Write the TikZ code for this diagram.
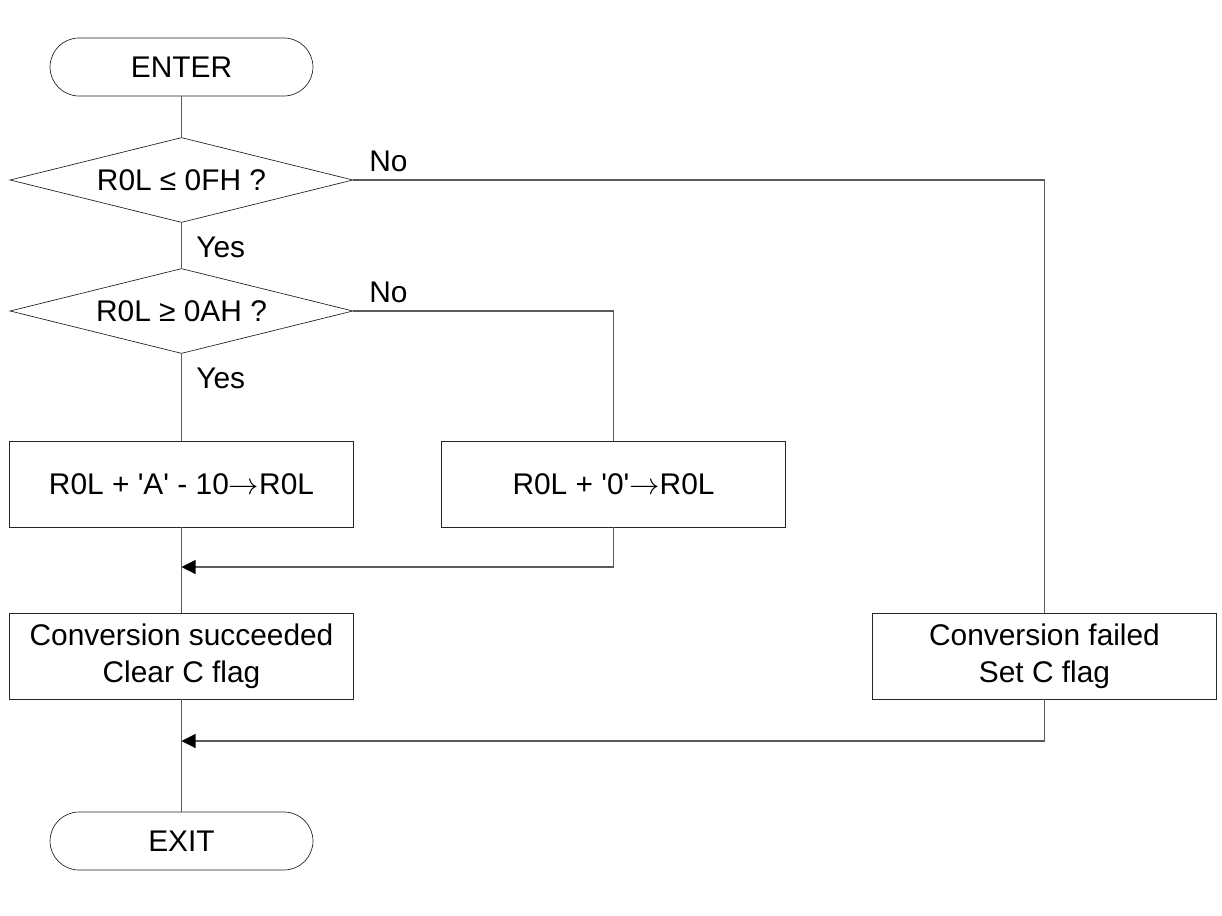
\documentclass[tikz,border=0pt]{standalone}
\usepackage{fontspec}
\setmainfont{Liberation Sans}
\usetikzlibrary{shapes,shapes.geometric,arrows.meta,positioning,calc}
\usepackage{xcolor}
\definecolor{flowgray}{RGB}{90,90,90}

\begin{document}
\begin{tikzpicture}[x=0.02cm, y=-0.02cm,
    font=\fontsize{17}{21}\selectfont,
    terminal/.style={rectangle, draw=black!85, rounded corners=0.58cm, minimum width=5.26cm, minimum height=1.16cm, inner sep=0pt},
    decision/.style={diamond, draw=black!85, aspect=4, inner sep=0pt, minimum width=6.86cm, minimum height=1.7cm},
    process/.style={rectangle, draw=black!85, align=center, inner sep=0pt, minimum width=6.88cm, minimum height=1.72cm},
    answer/.style={anchor=west, inner sep=0pt},
    flow/.style={draw=flowgray, line width=0.6pt},
    joinarrow/.style={flow, -{Triangle[length=0.28cm, width=0.28cm, color=black]}}]

    \useasboundingbox (0,0) rectangle (1222,915);

    \node[terminal] (enter) at (181.5,67) {ENTER};
    \node[decision] (lowfh) at (181.5,180) {R0L ≤ 0FH ?};
    \node[decision] (highah) at (181.5,311) {R0L ≥ 0AH ?};
    \node[process] (addA) at (181.5,484) {R0L + \textquotesingle A\textquotesingle\ - 10$\rightarrow$R0L};
    \node[process] (addzero) at (613.5,484) {R0L + \textquotesingle 0\textquotesingle$\rightarrow$R0L};
    \node[process] (success) at (181.5,656) {Conversion succeeded\\ Clear C flag};
    \node[process] (failed) at (1044.5,656) {Conversion failed\\ Set C flag};
    \node[terminal] (exit) at (181.5,841) {EXIT};

    \node[answer] (yes1) at (196,247) {Yes};
    \node[answer] (yes2) at (196,378) {Yes};
    \node[answer] (no1) at (369,161) {No};
    \node[answer] (no2) at (369,292) {No};

    \coordinate (join1) at (181.5,567);
    \coordinate (join2) at (181.5,741);

    % main column
    \draw[flow] (enter) -- (lowfh);
    \draw[flow] (lowfh) -- (highah);
    \draw[flow] (highah) -- (addA);
    \draw[flow] (addA) -- (success);
    \draw[flow] (success) -- (exit);

    % No branches
    \draw[flow] (lowfh.east) -| (failed.north);
    \draw[flow] (highah.east) -| (addzero.north);
    \draw[joinarrow] (addzero.south) |- (join1);
    \draw[joinarrow] (failed.south) |- (join2);
\end{tikzpicture}
\end{document}
